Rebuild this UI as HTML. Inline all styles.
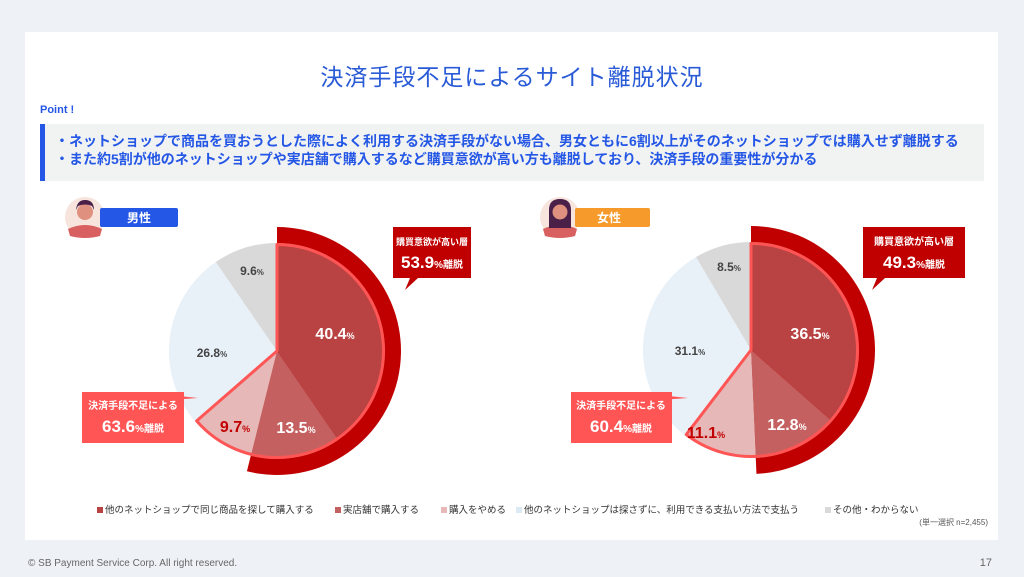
<!DOCTYPE html>
<html><head><meta charset="utf-8">
<style>
*{margin:0;padding:0;box-sizing:border-box}
body{width:1024px;height:577px;background:#eef2f7;font-family:"Liberation Sans","Noto Sans CJK JP",sans-serif;position:relative;overflow:hidden}
.card{position:absolute;left:25px;top:32px;width:973px;height:508px;background:#fff}
.abs{position:absolute;white-space:nowrap}
</style></head><body>
<div class="card"></div>
<div class="abs" style="left:0;width:1024px;text-align:center;top:58px;font-size:23px;color:#2a5bd7;letter-spacing:1px">決済手段不足によるサイト離脱状況</div>
<div class="abs" style="left:40px;top:104px;font-size:11px;font-weight:bold;color:#2457e6">Point !</div>
<div class="abs" style="left:40px;top:124px;width:944px;height:57px;background:#f1f2f2;border-left:5px solid #2457e6"></div>
<div class="abs" style="left:55px;top:132px;font-size:14px;font-weight:bold;color:#2457e6;line-height:18px">・ネットショップで商品を買おうとした際によく利用する決済手段がない場合、男女ともに6割以上がそのネットショップでは購入せず離脱する<br>・また約5割が他のネットショップや実店舗で購入するなど購買意欲が高い方も離脱しており、決済手段の重要性が分かる</div>

<svg class="abs" style="left:0;top:0" width="1024" height="577" id="s">
<circle cx="85" cy="217" r="20" fill="#f6e4dd"/>
<path d="M68 229 Q85 221 102 229 L100 236 Q85 240 70 236Z" fill="#d96060"/>
<circle cx="85" cy="212" r="8" fill="#e0907f"/>
<path d="M76 210 Q77 200 85 200 Q94 200 94 210 L92 206 Q85 203 78 206Z" fill="#4a1f48"/>
<rect x="100" y="208" width="78" height="19" rx="2" fill="#2457e6"/>
<text x="139" y="222" fill="#fff" font-size="12" font-weight="bold" text-anchor="middle">男性</text>
<circle cx="560" cy="217" r="20" fill="#f6e4dd"/>
<path d="M543 229 Q560 221 577 229 L575 236 Q560 240 545 236Z" fill="#d96060"/>
<path d="M549 228 L549 210 Q549 199 560 199 Q571 199 571 210 L571 228Z" fill="#4a1f48"/>
<circle cx="560" cy="212" r="7.5" fill="#e0907f"/>
<rect x="575" y="208" width="75" height="19" rx="2" fill="#f59a2b"/>
<text x="609" y="222" fill="#fff" font-size="12" font-weight="bold" text-anchor="middle">女性</text>
<g id="pies"></g>
<path d="M393 227 H471 V278 H418 L405 290 L410 278 H393Z" fill="#c00000"/>
<text x="432" y="245" fill="#fff" font-size="9" font-weight="bold" text-anchor="middle">購買意欲が高い層</text>
<text x="432" y="268" fill="#fff" font-size="17" font-weight="bold" text-anchor="middle">53.9<tspan font-size="10">%離脱</tspan></text>
<path d="M863 227 H965 V278 H885 L872 290 L877 278 H863Z" fill="#c00000"/>
<text x="914" y="245" fill="#fff" font-size="10" font-weight="bold" text-anchor="middle">購買意欲が高い層</text>
<text x="914" y="268" fill="#fff" font-size="17" font-weight="bold" text-anchor="middle">49.3<tspan font-size="10">%離脱</tspan></text>
<path d="M82 392 H184 V443 H82Z" fill="#ff5555"/>
<path d="M150 393 L198 398 L170 400Z" fill="#ff5555"/>
<text x="133" y="409" fill="#fff" font-size="10" font-weight="bold" text-anchor="middle">決済手段不足による</text>
<text x="133" y="432" fill="#fff" font-size="17" font-weight="bold" text-anchor="middle">63.6<tspan font-size="10">%離脱</tspan></text>
<path d="M571 392 H672 V443 H571Z" fill="#ff5555"/>
<path d="M640 393 L688 398 L660 400Z" fill="#ff5555"/>
<text x="621" y="409" fill="#fff" font-size="10" font-weight="bold" text-anchor="middle">決済手段不足による</text>
<text x="621" y="432" fill="#fff" font-size="17" font-weight="bold" text-anchor="middle">60.4<tspan font-size="10">%離脱</tspan></text>
<g font-weight="bold">
<text x="335" y="339" fill="#fff" font-size="16" text-anchor="middle">40.4<tspan font-size="9">%</tspan></text>
<text x="296" y="433" fill="#fff" font-size="16" text-anchor="middle">13.5<tspan font-size="9">%</tspan></text>
<text x="235" y="432" fill="#c00000" font-size="16" text-anchor="middle">9.7<tspan font-size="9">%</tspan></text>
<text x="212" y="357" fill="#444" font-size="12" text-anchor="middle">26.8<tspan font-size="8">%</tspan></text>
<text x="252" y="275" fill="#444" font-size="12" text-anchor="middle">9.6<tspan font-size="8">%</tspan></text>
<text x="810" y="339" fill="#fff" font-size="16" text-anchor="middle">36.5<tspan font-size="9">%</tspan></text>
<text x="787" y="430" fill="#fff" font-size="16" text-anchor="middle">12.8<tspan font-size="9">%</tspan></text>
<text x="706" y="438" fill="#c00000" font-size="16" text-anchor="middle">11.1<tspan font-size="9">%</tspan></text>
<text x="690" y="355" fill="#444" font-size="12" text-anchor="middle">31.1<tspan font-size="8">%</tspan></text>
<text x="729" y="271" fill="#444" font-size="12" text-anchor="middle">8.5<tspan font-size="8">%</tspan></text>
</g>
<g font-size="9.5" fill="#333">
<rect x="97" y="507" width="6" height="6" fill="#b94242"/><text x="105" y="513">他のネットショップで同じ商品を探して購入する</text>
<rect x="335" y="507" width="6" height="6" fill="#c56060"/><text x="343" y="513">実店舗で購入する</text>
<rect x="441" y="507" width="6" height="6" fill="#e6b8b8"/><text x="449" y="513">購入をやめる</text>
<rect x="516" y="507" width="6" height="6" fill="#dbe9f3"/><text x="524" y="513">他のネットショップは探さずに、利用できる支払い方法で支払う</text>
<rect x="825" y="507" width="6" height="6" fill="#d9d9d9"/><text x="833" y="513">その他・わからない</text>
<text x="988" y="525" font-size="8" text-anchor="end" fill="#555">(単一選択 n=2,455)</text>
</g>
<text x="28" y="566" font-size="10" fill="#666">© SB Payment Service Corp. All right reserved.</text>
<text x="992" y="566" font-size="11" fill="#666" text-anchor="end">17</text>
</svg>
<script>
function pt(cx,cy,r,f){var a=f*2*Math.PI;return [cx+r*Math.sin(a),cy-r*Math.cos(a)];}
function sec(cx,cy,r,a,b){var p=pt(cx,cy,r,a),q=pt(cx,cy,r,b);return "M"+cx+" "+cy+"L"+p[0]+" "+p[1]+"A"+r+" "+r+" 0 "+((b-a)>0.5?1:0)+" 1 "+q[0]+" "+q[1]+"Z";}
var h="";
function pie(cx,cy,v){
 var cols=["#b94242","#c56060","#e6b8b8","#e8f0f8","#d9d9d9"];
 var s=(v[0]+v[1])/100;
 h+='<path d="'+sec(cx,cy,124,0,s)+'" fill="#c00000"/>';
 var a=0;
 for(var i=0;i<5;i++){var b=a+v[i]/100;h+='<path d="'+sec(cx,cy,108,a,b)+'" fill="'+cols[i]+'"/>';a=b;}
 var g=(v[0]+v[1]+v[2])/100;
 h+='<path d="'+sec(cx,cy,106.5,0,g)+'" fill="none" stroke="#ff5555" stroke-width="3" stroke-linejoin="round"/>';
}
pie(277,351,[40.4,13.5,9.7,26.8,9.6]);
pie(751,350,[36.5,12.8,11.1,31.1,8.5]);
document.getElementById("pies").innerHTML=h;
</script>
</body></html>
